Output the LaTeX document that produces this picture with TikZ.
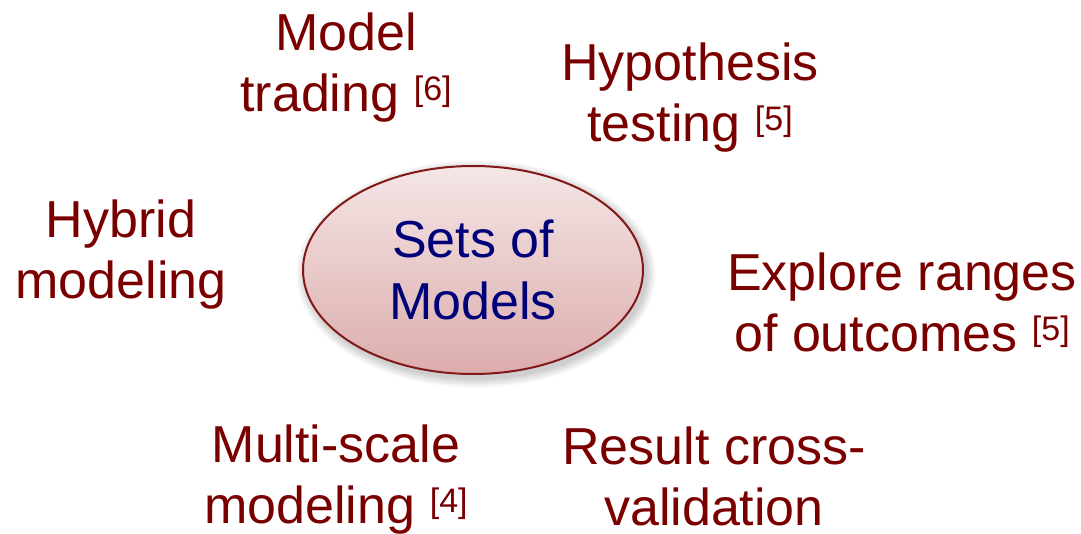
\documentclass[tikz,border=0pt]{standalone}
\usepackage{fontspec}
\setmainfont{Liberation Sans}
\usetikzlibrary{shapes.geometric}
\definecolor{lbl}{RGB}{122,0,0}
\definecolor{navy}{RGB}{0,0,120}
\definecolor{ellborder}{RGB}{130,25,25}
\definecolor{elltop}{RGB}{245,230,230}
\definecolor{ellbot}{RGB}{220,172,172}
\newcommand\refmark[1]{\raisebox{11pt}{\fontsize{34}{34}\selectfont[#1]}}
\begin{document}
\begin{tikzpicture}[x=1pt,y=-1pt,
  lab/.style={text=lbl, font=\fontsize{52}{61}\selectfont, align=center, inner sep=0pt, anchor=north},
  hub/.style={ellipse, draw=ellborder, line width=2pt, top color=elltop, bottom color=ellbot,
    minimum width=340pt, minimum height=208pt, text=navy,
    font=\fontsize{52}{62}\selectfont, align=center, inner sep=0pt}]
\useasboundingbox[fill=white] (0,0) rectangle (1081,534);
\foreach \i in {1,...,8}
  \fill[black, opacity=0.025] (476,274) ellipse ({170+\i*1.2} and {104+\i*1.2});
\node[hub] (c) at (473,270) {Sets of\\Models};
\node[lab] (mt) at (346,13) {Model\\trading \refmark{6}};
\node[lab] (ht) at (690,43) {Hypothesis\\testing \refmark{5}};
\node[lab] (hm) at (121,200) {Hybrid\\modeling};
\node[lab] (er) at (902,253) {Explore ranges\\of outcomes \refmark{5}};
\node[lab] (ms) at (336,425) {Multi-scale\\modeling \refmark{4}};
\node[lab] (rc) at (714,427) {Result cross-\\validation};
\end{tikzpicture}
\end{document}
